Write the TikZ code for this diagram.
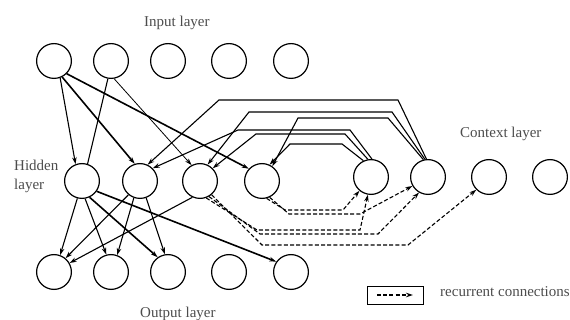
\documentclass[tikz,border=0pt]{standalone}
\usepackage{fontspec}
\setmainfont{Liberation Serif}
\usetikzlibrary{arrows.meta}
\begin{document}
\begin{tikzpicture}[x=1pt,y=-1pt,
  unit/.style={circle, draw, line width=1.2pt, minimum size=34.8pt, inner sep=0pt},
  lbl/.style={text=black!70, font=\fontsize{15}{18}\selectfont, inner sep=0pt, anchor=base west},
  tip/.style={-{Stealth[length=7pt,width=4.5pt]}},
  ff/.style={line width=1.1pt, tip},
  ffthick/.style={line width=1.6pt, tip},
  ffthin/.style={line width=0.8pt, tip},
  plain/.style={line width=1.1pt},
  rec/.style={line width=1.1pt, dash pattern=on 4pt off 2.2pt, tip},
]
\useasboundingbox (0,0) rectangle (570,320);

% input layer
\node[unit] (I1) at (54,61) {};
\node[unit] (I2) at (111,61) {};
\node[unit] (I3) at (168,61) {};
\node[unit] (I4) at (229,61) {};
\node[unit] (I5) at (291,61) {};

% hidden layer
\node[unit] (H1) at (82,181) {};
\node[unit] (H2) at (140,181) {};
\node[unit] (H3) at (200,181) {};
\node[unit] (H4) at (262,181) {};

% context layer
\node[unit] (H5) at (371,177) {};
\node[unit] (H6) at (428,177) {};
\node[unit] (C7) at (489,177) {};
\node[unit] (C8) at (550,177) {};

% output layer
\node[unit] (O1) at (54,272) {};
\node[unit] (O2) at (111,272) {};
\node[unit] (O3) at (168,272) {};
\node[unit] (O4) at (229,272) {};
\node[unit] (O5) at (291,272) {};

% labels
\node[lbl] (tin) at (144,27) {Input layer};
\node[lbl] (thid1) at (14,171) {Hidden};
\node[lbl] (thid2) at (14,190) {layer};
\node[lbl] (tout) at (140,317) {Output layer};
\node[lbl] (tctx) at (460,138) {Context layer};
\node[lbl] (tkey) at (440,297) {recurrent connections};

% input -> hidden
\draw[ff] (I1.-70) -- (H1.111);
\draw[ffthick] (I1.-63) -- (H2.107);
\draw[ffthick] (I1.-45) -- (H4.137);
\draw[plain] (I2.-100) -- (H1.72);
\draw[ffthin] (I2.-80) -- (H3.118);

% context -> hidden
\draw[ff] (H6.95) -- (398,100) -- (219,100) -- (H2.65);
\draw[ff] (H6.100) -- (392,112) -- (249,112) -- (H3.65);
\draw[ff] (H6.105) -- (388,118) -- (298,118) -- (H4.55);
\draw[ff] (H5.87) -- (350,130) -- (238,130) -- (H2.45);
\draw[ff] (H5.100) -- (345,134) -- (256,134) -- (H3.45);
\draw[ff] (H5.115) -- (342,144) -- (290,144) -- (H4.65);

% hidden -> output
\draw[ff] (H1.-105) -- (O1.70);
\draw[ff] (H1.-80) -- (O2.105);
\draw[ffthick] (H1.-65) -- (O3.125);
\draw[ffthick] (H1.-35) -- (O5.145);
\draw[ff] (H2.-130) -- (O1.50);
\draw[ff] (H2.-110) -- (O2.70);
\draw[ff] (H2.-70) -- (O3.100);
\draw[ff] (H3.-115) -- (O1.30);

% hidden -> context (recurrent)
\draw[rec] (H3.-70) -- (257,230) -- (360,230) -- (H5.-100);
\draw[rec] (H3.-60) -- (260,234) -- (378,234) -- (H6.-120);
\draw[rec] (H3.-50) -- (262,245) -- (408,245) -- (C7.-135);
\draw[rec] (H4.-75) -- (285,210) -- (343,210) -- (H5.-130);
\draw[rec] (H4.-65) -- (289,214) -- (360,214) -- (H6.-150);

% key
\node[draw, line width=1.4pt, minimum width=56pt, minimum height=18pt, inner sep=0pt] (key) at (395.5,295.5) {};
\coordinate (ka) at (377,295);
\coordinate (kb) at (413,295);
\draw[rec] (ka) -- (kb);
\end{tikzpicture}
\end{document}
